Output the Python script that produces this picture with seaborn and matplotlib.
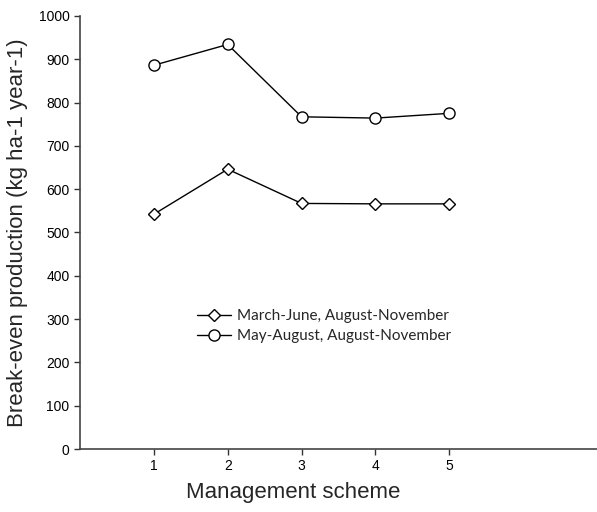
import matplotlib
matplotlib.use("Agg")
import matplotlib.pyplot as plt
import seaborn as sns
import pandas as pd
from matplotlib.lines import Line2D

schemes = [1, 2, 3, 4, 5]
march_june = [542, 646, 567, 566, 566]
may_august = [886, 934, 767, 764, 775]
series_names = ["March-June, August-November", "May-August, August-November"]
y_ticks = [0, 100, 200, 300, 400, 500, 600, 700, 800, 900, 1000]
x_ticks = [1, 2, 3, 4, 5]

sns.set_theme(style="ticks")
plt.rcParams['font.family'] = ['Liberation Sans', 'DejaVu Sans']

df = pd.DataFrame({
    "scheme": schemes * 2,
    "value": march_june + may_august,
    "series": [series_names[0]] * 5 + [series_names[1]] * 5,
})

fig = plt.figure(figsize=(5.97, 5.12), dpi=100)
ax = fig.add_axes([0.134, 0.123, 0.866, 0.846])
sns.lineplot(data=df, x="scheme", y="value", hue="series", style="series",
             markers={series_names[0]: "D", series_names[1]: "o"}, dashes=False,
             palette={series_names[0]: "black", series_names[1]: "black"},
             linewidth=1.0, ax=ax, legend=False)
for line, ms in zip(ax.lines, [6, 8]):
    line.set_markersize(ms)
    line.set_markerfacecolor("white")
    line.set_markeredgecolor("black")
    line.set_markeredgewidth(1.0)

ax.set_xlim(0, 7.0)
ax.set_ylim(0, 1000)
ax.set_xticks(x_ticks)
ax.set_yticks(y_ticks)
ax.tick_params(axis="both", labelsize=10, length=4, width=1, colors="#333333",
               labelcolor="black", direction="out")
for s in ["top", "right"]:
    ax.spines[s].set_visible(False)
for s in ["left", "bottom"]:
    ax.spines[s].set_color("#444444")
    ax.spines[s].set_linewidth(1.2)
ax.set_xlabel("Management scheme", fontsize=16)
ax.xaxis.set_label_coords(0.412, -0.075)
ax.set_ylabel("Break-even production (kg ha-1 year-1)", fontsize=16, labelpad=8)

handles = [Line2D([], [], color="black", lw=1, marker="D", ms=6, mfc="white", mec="black"),
           Line2D([], [], color="black", lw=1, marker="o", ms=8, mfc="white", mec="black")]
ax.legend(handles, series_names, loc="upper left", bbox_to_anchor=(0.2, 0.355),
          frameon=False, prop={"family": "Lato", "size": 11}, handlelength=2.2,
          handletextpad=0.4, labelspacing=0.4)
fig.savefig("out.png", dpi=100)
